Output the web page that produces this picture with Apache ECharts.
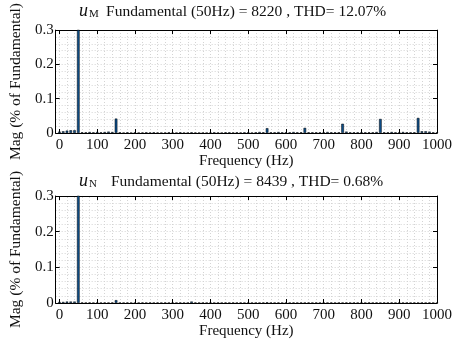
<!DOCTYPE html>
<html>
<head>
<meta charset="utf-8">
<script src="https://cdn.jsdelivr.net/npm/echarts@6/dist/echarts.min.js"></script>
<style>
  html, body { margin: 0; padding: 0; background: #fff; }
  #chart { width: 461px; height: 341px; }
</style>
</head>
<body>
<div id="chart"></div>
<script>
// Harmonic bins (Hz)
const freqs = [
  0, 10, 20, 30, 40, 50, 60, 70, 80, 90,
  100, 110, 120, 130, 140, 150, 160, 170, 180, 190,
  200, 210, 220, 230, 240, 250, 260, 270, 280, 290,
  300, 310, 320, 330, 340, 350, 360, 370, 380, 390,
  400, 410, 420, 430, 440, 450, 460, 470, 480, 490,
  500, 510, 520, 530, 540, 550, 560, 570, 580, 590,
  600, 610, 620, 630, 640, 650, 660, 670, 680, 690,
  700, 710, 720, 730, 740, 750, 760, 770, 780, 790,
  800, 810, 820, 830, 840, 850, 860, 870, 880, 890,
  900, 910, 920, 930, 940, 950, 960, 970, 980, 990,
  1000
];

// Spectrum of u_M (% of fundamental)
const magM = [
  0.004, 0.005, 0.007, 0.008, 0.008, 100, 0.002, 0.002, 0.003, 0.002,
  0.003, 0.002, 0.003, 0.004, 0.003, 0.042, 0.002, 0.001, 0.002, 0.001,
  0.002, 0.001, 0.001, 0.002, 0.001, 0.002, 0.001, 0.001, 0.001, 0.002,
  0.001, 0.001, 0.002, 0.001, 0.001, 0.002, 0.001, 0.001, 0.001, 0.001,
  0.001, 0.002, 0.001, 0.001, 0.002, 0.002, 0.001, 0.002, 0.001, 0.002,
  0.002, 0.001, 0.002, 0.003, 0.002, 0.014, 0.002, 0.002, 0.003, 0.002,
  0.002, 0.002, 0.003, 0.002, 0.002, 0.015, 0.002, 0.002, 0.002, 0.002,
  0.002, 0.003, 0.002, 0.002, 0.002, 0.027, 0.004, 0.002, 0.002, 0.002,
  0.002, 0.002, 0.002, 0.002, 0.003, 0.041, 0.002, 0.002, 0.003, 0.002,
  0.002, 0.003, 0.002, 0.002, 0.002, 0.044, 0.005, 0.005, 0.004, 0.002,
  0.002
];

// Spectrum of u_N (% of fundamental)
const magN = [
  0.003, 0.003, 0.004, 0.004, 0.004, 100, 0.001, 0.001, 0.001, 0.001,
  0.001, 0.001, 0.001, 0.001, 0.001, 0.008, 0.001, 0.001, 0.001, 0.001,
  0.001, 0.001, 0.001, 0.001, 0.001, 0.001, 0.001, 0.001, 0.001, 0.001,
  0.001, 0.001, 0.001, 0.001, 0.001, 0.004, 0.001, 0.001, 0.001, 0.001,
  0.001, 0.001, 0.001, 0.001, 0.001, 0.001, 0.001, 0.001, 0.001, 0.001,
  0.001, 0.001, 0.001, 0.001, 0.001, 0.002, 0.001, 0.001, 0.001, 0.001,
  0.001, 0.001, 0.001, 0.001, 0.001, 0.001, 0.001, 0.001, 0.001, 0.001,
  0.001, 0.001, 0.001, 0.001, 0.001, 0.001, 0.001, 0.001, 0.001, 0.001,
  0.001, 0.001, 0.001, 0.001, 0.001, 0.001, 0.001, 0.001, 0.001, 0.001,
  0.001, 0.001, 0.001, 0.001, 0.001, 0.001, 0.001, 0.001, 0.001, 0.001,
  0.001
];

const xTicks = [0, 100, 200, 300, 400, 500, 600, 700, 800, 900, 1000];
const xGridLines = [
  0, 20, 40, 60, 80, 100, 120, 140, 160, 180, 200, 220, 240, 260, 280, 300,
  320, 340, 360, 380, 400, 420, 440, 460, 480, 500, 520, 540, 560, 580, 600,
  620, 640, 660, 680, 700, 720, 740, 760, 780, 800, 820, 840, 860, 880, 900,
  920, 940, 960, 980, 1000
];

const titles = [
  { sym: 'M', fund: '8220', thd: '12.07%', gap: ' ' },
  { sym: 'N', fund: '8439', thd: '0.68%', gap: '   ' }
];

const FONT = '"Liberation Serif", "DejaVu Serif", serif';
const GRID_COLOR = '#d4d4d4';
const TXT = '#111';
const grids = [
  { left: 52, top: 26, width: 385, height: 107 },
  { left: 52, top: 196, width: 385, height: 107 }
];

const xAxes = [];
const yAxes = [];
const series = [];

[magM, magN].forEach(function (mag, g) {
  // bottom x axis with labels
  xAxes.push({
    type: 'value', gridIndex: g, position: 'bottom', min: -10, max: 1000,
    name: 'Frequency (Hz)', nameLocation: 'middle', nameGap: 20,
    nameTextStyle: { fontFamily: FONT, fontSize: 15, color: TXT },
    axisLine: { show: true, onZero: false, lineStyle: { color: '#000', width: 1 } },
    axisTick: { show: true, inside: true, length: 4, customValues: xTicks, lineStyle: { color: '#000' } },
    axisLabel: {
      customValues: xTicks, fontFamily: FONT, fontSize: 15, color: TXT, margin: 5,
      formatter: function (v) { return String(v); }
    },
    splitLine: { show: false }
  });
  // top x axis (box edge with ticks)
  xAxes.push({
    type: 'value', gridIndex: g, position: 'top', min: -10, max: 1000,
    axisLine: { show: true, onZero: false, lineStyle: { color: '#000', width: 1 } },
    axisTick: { show: true, inside: true, length: 4, customValues: xTicks, lineStyle: { color: '#000' } },
    axisLabel: { show: false },
    splitLine: { show: false }
  });
  // left y axis with labels
  yAxes.push({
    type: 'value', gridIndex: g, position: 'left', min: 0, max: 0.3, interval: 0.1,
    name: 'Mag (% of Fundamental)', nameLocation: 'middle', nameGap: 13,
    nameTextStyle: { fontFamily: FONT, fontSize: 15.5, color: TXT },
    axisLine: { show: true, onZero: false, lineStyle: { color: '#000', width: 1 } },
    axisTick: { show: true, inside: true, length: 4, lineStyle: { color: '#000' } },
    axisLabel: {
      fontFamily: FONT, fontSize: 15, color: TXT, margin: 2,
      formatter: function (v) { return v === 0 ? '0' : v.toFixed(1); }
    },
    splitLine: { show: true, lineStyle: { color: GRID_COLOR, type: [1, 2], width: 1 } },
    minorTick: { show: false, splitNumber: 5 },
    minorSplitLine: { show: true, lineStyle: { color: GRID_COLOR, type: [1, 2], width: 1 } }
  });
  // right y axis (box edge with ticks)
  yAxes.push({
    type: 'value', gridIndex: g, position: 'right', min: 0, max: 0.3, interval: 0.1,
    axisLine: { show: true, onZero: false, lineStyle: { color: '#000', width: 1 } },
    axisTick: { show: true, inside: true, length: 4, lineStyle: { color: '#000' } },
    axisLabel: { show: false },
    splitLine: { show: false }
  });

  series.push({
    type: 'bar',
    xAxisIndex: g * 2, yAxisIndex: g * 2,
    data: freqs.map(function (f, i) { return [f, mag[i]]; }),
    barWidth: 2.6,
    clip: true,
    itemStyle: { color: '#0d4f8b', borderColor: '#000', borderWidth: 0.5 },
    markLine: {
      silent: true, symbol: 'none', label: { show: false }, z: 0,
      lineStyle: { color: GRID_COLOR, type: [1, 2], width: 1 },
      animation: false,
      data: xGridLines.map(function (v) { return { xAxis: v }; })
    },
    animation: false
  });
});

const graphics = titles.map(function (t, g) {
  return {
    type: 'text',
    left: 79,
    top: grids[g].top - 24,
    style: {
      text: '{u|u}{s|' + t.sym + '}' + t.gap + '{n|Fundamental (50Hz) = ' + t.fund + ' , THD= ' + t.thd + '}',
      rich: {
        u: { fontFamily: FONT, fontStyle: 'italic', fontSize: 18, fill: TXT, verticalAlign: 'bottom' },
        s: { fontFamily: FONT, fontSize: 11, fill: TXT, padding: [6, 4, 0, 1], verticalAlign: 'bottom' },
        n: { fontFamily: FONT, fontSize: 15.5, fill: TXT, verticalAlign: 'bottom' }
      }
    }
  };
});

const chart = echarts.init(document.getElementById('chart'), null, { renderer: 'canvas' });
chart.setOption({
  backgroundColor: '#fff',
  animation: false,
  grid: grids,
  xAxis: xAxes,
  yAxis: yAxes,
  series: series,
  graphic: graphics
});
</script>
</body>
</html>
